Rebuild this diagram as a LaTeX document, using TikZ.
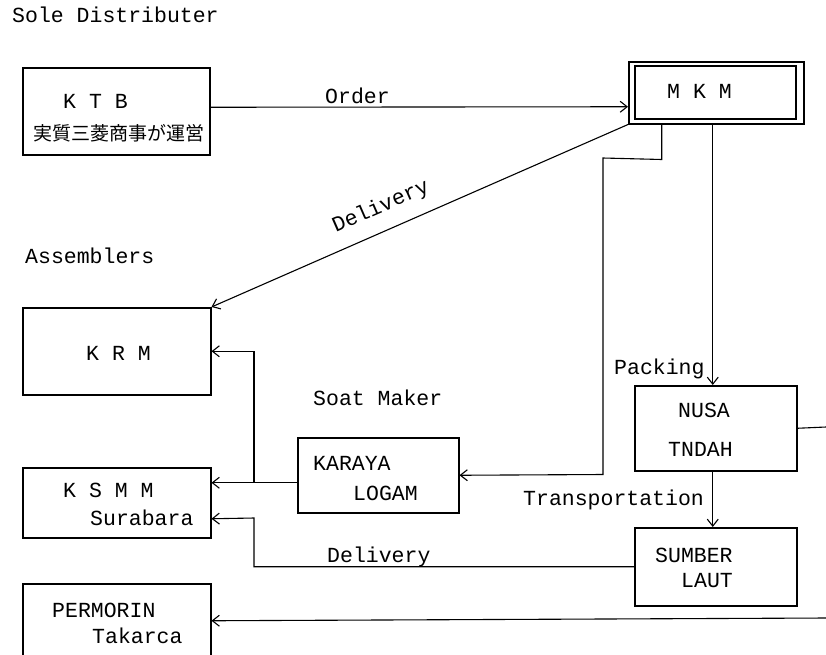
\documentclass[tikz,border=0pt]{standalone}
\usepackage{fontspec}
\setmainfont{Liberation Mono}
\newfontfamily\jpfont{Noto Sans CJK JP}
\usetikzlibrary{arrows.meta}
\begin{document}
\begin{tikzpicture}[x=1pt,y=-1pt,
  box/.style={draw,line width=1.5pt,inner sep=0pt,anchor=north west},
  lbl/.style={font=\fontsize{21.5}{24}\selectfont,inner sep=0pt,anchor=base west},
  jlbl/.style={font=\jpfont\fontsize{19}{22}\selectfont,inner sep=0pt,anchor=base west},
  ln/.style={line width=1.1pt},
  arr/.style={line width=1.1pt,-{Straight Barb[length=7pt,width=11pt]}}]
\useasboundingbox (0,0) rectangle (826,654);
\clip (0,0) rectangle (826,654);
% boxes
\node[box,minimum width=187pt,minimum height=87pt] (ktb) at (22,67) {};
\node[box,minimum width=175pt,minimum height=62pt] (mkm) at (628,61) {};
\node[box,minimum width=161pt,minimum height=53pt] (mkmin) at (634,65) {};
\node[box,minimum width=188pt,minimum height=87pt] (krm) at (22,307) {};
\node[box,minimum width=161pt,minimum height=75pt] (karaya) at (297,437) {};
\node[box,minimum width=188pt,minimum height=70pt] (ksmm) at (22,467) {};
\node[box,minimum width=188pt,minimum height=76pt] (permorin) at (22,583) {};
\node[box,minimum width=162pt,minimum height=85pt] (nusa) at (634,385) {};
\node[box,minimum width=162pt,minimum height=78pt] (sumber) at (634,527) {};
% texts
\node[lbl] (tsole) at (12,22) {Sole Distributer};
\node[lbl] (tktb) at (63,108) {K T B};
\node[jlbl] (tjp) at (33,140) {実質三菱商事が運営};
\node[lbl] (torder) at (325,103) {Order};
\node[lbl] (tmkm) at (667,98) {M  K  M};
\node[lbl,anchor=center,rotate=23.6] (tdel1) at (381,207) {Delivery};
\node[lbl] (tasm) at (25,263) {Assemblers};
\node[lbl] (tkrm) at (86,360) {K R M};
\node[lbl] (tsoat) at (313,405) {Soat Maker};
\node[lbl] (tkar) at (313,470) {KARAYA};
\node[lbl] (tlog) at (353,500) {LOGAM};
\node[lbl] (tksmm) at (63,497) {K S M M};
\node[lbl] (tsura) at (90,525) {Surabara};
\node[lbl] (tdel2) at (327,562) {Delivery};
\node[lbl] (tperm) at (52,617) {PERMORIN};
\node[lbl] (ttak) at (92,643) {Takarca};
\node[lbl] (tpack) at (614,374) {Packing};
\node[lbl] (tnusa) at (678,417) {NUSA};
\node[lbl] (ttnd) at (668,456) {TNDAH};
\node[lbl] (ttrans) at (523,505) {Transportation};
\node[lbl] (tsum) at (655,562) {SUMBER};
\node[lbl] (tlaut) at (681,587) {LAUT};
% coordinates
\coordinate (j) at (254,482);
\coordinate (rtop) at (826,427);
\coordinate (rbot) at (826,618);
% connectors
\draw[arr] ([yshift=4pt]ktb.east) -- ([yshift=-14pt]mkm.west);
\draw[arr] (mkm.south west) -- (krm.north east);
\draw[arr] ([xshift=-54.5pt]mkm.south) -- ++(0,35) -- (603,158) -- (603,474.5) -- (karaya.east);
\draw[arr] ([xshift=-3.5pt]mkm.south) -- ([xshift=-3pt]nusa.north);
\draw[arr] ([xshift=-3pt]nusa.south) -- ([xshift=-3pt]sumber.north);
\draw[ln] (nusa.east) -- (rtop);
\draw[arr] ([yshift=-7.5pt]karaya.west) -- ([yshift=20pt]ksmm.east);
\draw[arr] (j) |- (krm.east);
\draw[arr] (sumber.west) -| (254,518) -- ([yshift=-16pt]ksmm.east);
\draw[arr] (rbot) -- ([yshift=1pt]permorin.east);
\end{tikzpicture}
\end{document}
